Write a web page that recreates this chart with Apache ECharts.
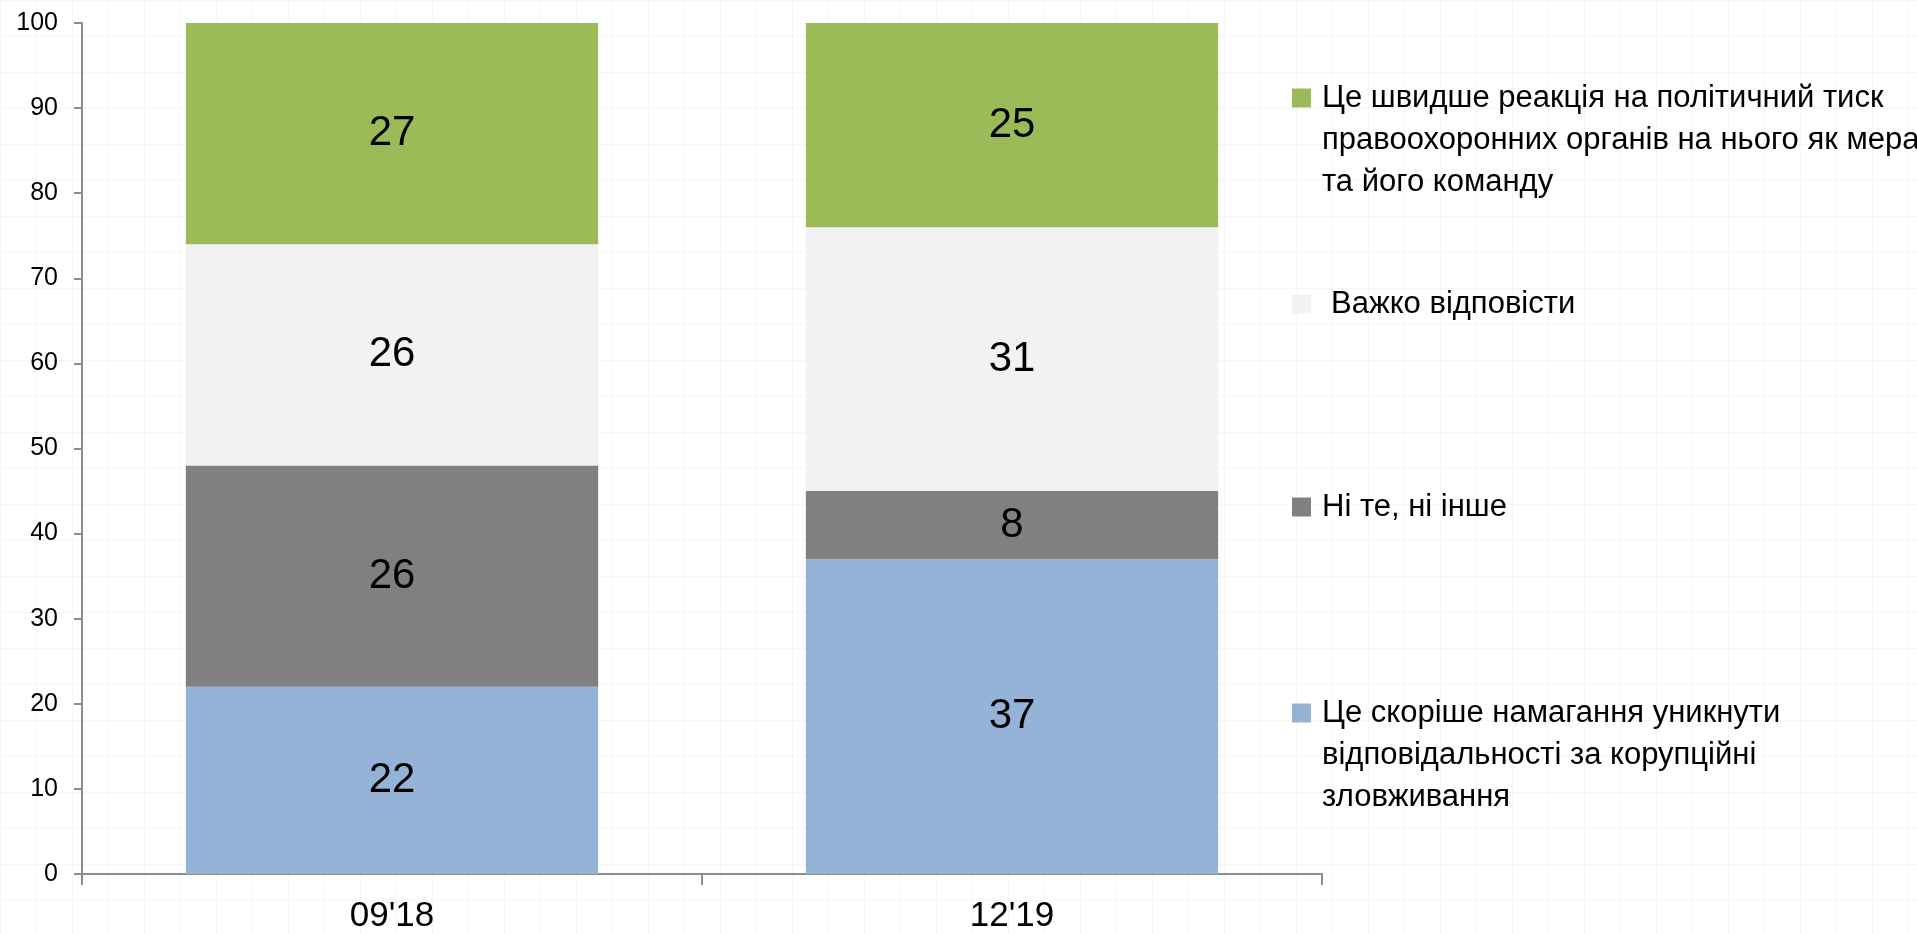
<!DOCTYPE html>
<html>
<head>
<meta charset="utf-8">
<title>Stacked bars</title>
<script src="https://cdn.jsdelivr.net/npm/echarts@6/dist/echarts.min.js"></script>
<style>
    html, body {
        margin: 0;
        padding: 0;
        width: 1917px;
        height: 934px;
        overflow: hidden;
        /* faint graph paper behind the chart */
        background-color: #ffffff;
        background-image:
            linear-gradient(to right, rgba(0,0,0,0.035) 1px, transparent 1px),
            linear-gradient(to bottom, rgba(0,0,0,0.035) 1px, transparent 1px);
        background-size: 36px 36px;
    }
    #chart {
        width: 1917px;
        height: 934px;
    }
</style>
</head>
<body>
<div id="chart"></div>
<script>
'use strict';

// ---- data ----------------------------------------------------

var categories = ["09'18", "12'19"];

var blue_values = [22, 37];
var dark_values = [26, 8];
var light_values = [26, 31];
var green_values = [27, 25];

var y_min = 0;
var y_max = 100;
var y_interval = 10;

// legend texts, already wrapped as in the picture (top to bottom)
var green_lines = ['Це швидше реакція на політичний тиск', 'правоохоронних органів на нього як мера', 'та його команду'];
var light_lines = ['Важко відповісти'];
var dark_lines = ['Ні те, ні інше'];
var blue_lines = ['Це скоріше намагання уникнути', 'відповідальності за корупційні', 'зловживання'];

(function (echarts) {

    var font = '"Liberation Sans", Arial, sans-serif';
    var axis_color = '#8c8c8c';

    var legend_left = 1292,
        marker_size = 19,
        text_left = 1322,
        line_gap = 42,
        text_size = 31,
        text_box = 40; // legend text line box, taller than the marker

    var groups = [
        {lines: green_lines, values: green_values, color: '#9bbb59', center: 98, pad: 6},
        {lines: light_lines, values: light_values, color: '#f2f2f2', center: 304, pad: 15},
        {lines: dark_lines, values: dark_values, color: '#808080', center: 507, pad: 6},
        {lines: blue_lines, values: blue_values, color: '#95b3d7', center: 713, pad: 6}
    ];

    var full_name = function (g) { return g.lines.join(' '); };

    // stacking goes bottom-up: blue, dark, light, green
    var series = groups.slice().reverse().map(function (g) {
        return {
            name: full_name(g),
            type: 'bar',
            stack: 'total',
            barCategoryGap: '33.5%',
            data: g.values,
            itemStyle: {color: g.color},
            label: {
                show: true,
                position: 'inside',
                color: '#000',
                fontFamily: font,
                fontSize: 42
            },
            emphasis: {disabled: true}
        };
    });

    // one legend per entry so each can sit at its own height
    var legends = groups.map(function (g) {
        return {
            data: [full_name(g)],
            left: legend_left,
            top: g.center - text_box / 2,
            padding: 0,
            itemWidth: marker_size,
            itemHeight: marker_size,
            icon: 'rect',
            selectedMode: false,
            formatter: function () { return g.lines[0]; },
            textStyle: {
                color: '#000',
                fontFamily: font,
                fontSize: text_size,
                lineHeight: text_box,
                padding: [0, 0, 0, g.pad]
            }
        };
    });

    // continuation lines of the wrapped legend labels
    var graphics = [];
    groups.forEach(function (g) {
        g.lines.slice(1).forEach(function (line, i) {
            graphics.push({
                type: 'text',
                x: text_left,
                y: g.center + line_gap * (i + 1),
                style: {
                    text: line,
                    fill: '#000',
                    font: text_size + 'px ' + font,
                    verticalAlign: 'middle'
                },
                silent: true
            });
        });
    });

    var chart = echarts.init(document.getElementById('chart'), null, {renderer: 'canvas'});
    chart.setOption({
        animation: false,
        backgroundColor: 'transparent',
        grid: {left: 82, right: 595, top: 23, bottom: 60, containLabel: false},
        legend: legends,
        graphic: graphics,
        xAxis: {
            type: 'category',
            data: categories,
            boundaryGap: true,
            axisLine: {lineStyle: {color: axis_color, width: 2}},
            axisTick: {show: true, length: 11, alignWithLabel: false, lineStyle: {color: axis_color, width: 2}},
            axisLabel: {color: '#000', fontFamily: font, fontSize: 35, margin: 25}
        },
        yAxis: {
            type: 'value',
            min: y_min,
            max: y_max,
            interval: y_interval,
            axisLine: {show: true, lineStyle: {color: axis_color, width: 2}},
            axisTick: {show: true, length: 8, lineStyle: {color: axis_color, width: 2}},
            axisLabel: {color: '#000', fontFamily: font, fontSize: 25, margin: 24},
            splitLine: {show: false}
        },
        series: series
    });

})(echarts);
</script>
</body>
</html>
